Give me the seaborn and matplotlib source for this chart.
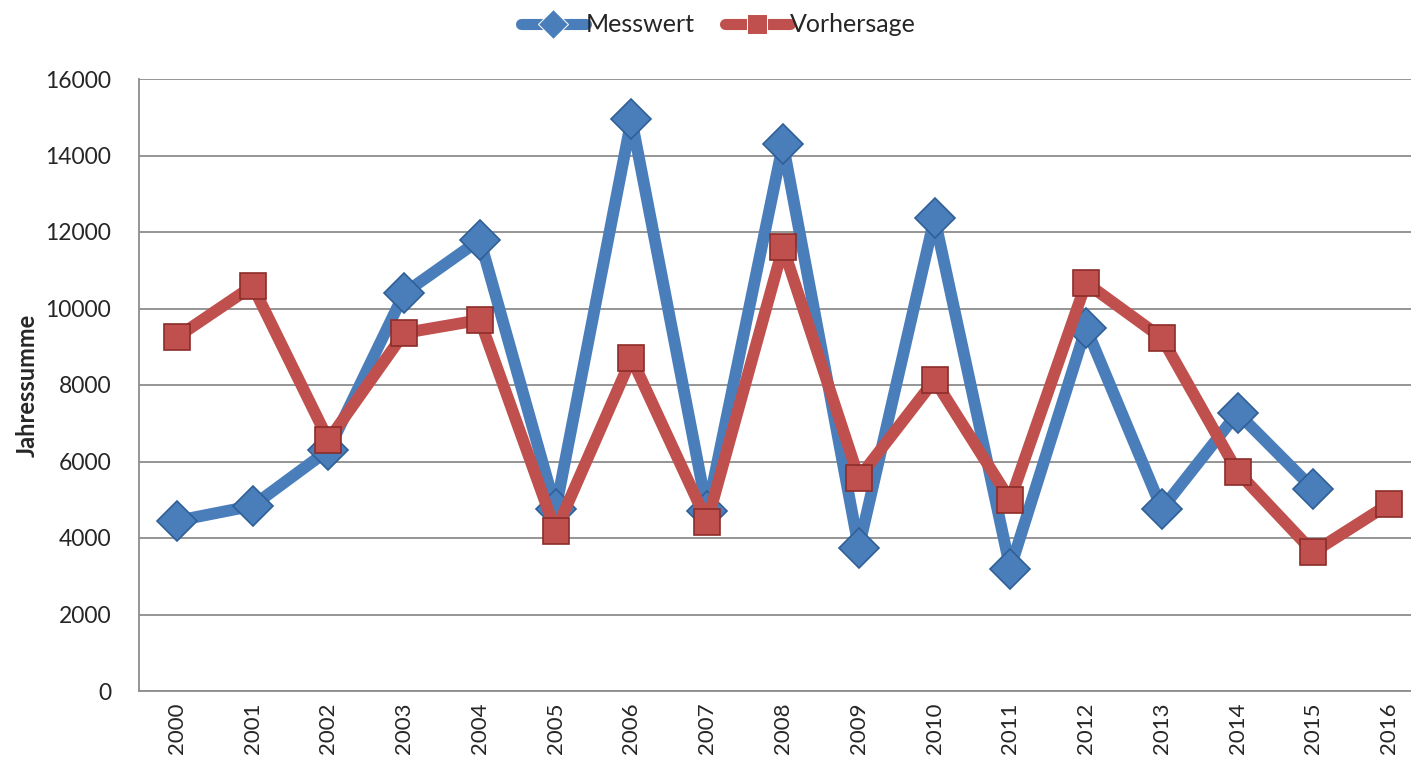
import numpy as np
import pandas as pd
import seaborn as sns
import matplotlib.pyplot as plt

years = [str(y) for y in range(2000, 2017)]
messwert = [4450, 4840, 6300, 10400, 11800, 4750, 14950, 4700, 14300,
            3740, 12370, 3200, 9500, 4760, 7270, 5280, np.nan]
vorhersage = [9250, 10590, 6560, 9360, 9700, 4180, 8700, 4420, 11600,
              5570, 8130, 4990, 10670, 9230, 5730, 3630, 4890]

df = pd.DataFrame({
    "Jahr": years * 2,
    "Wert": messwert + vorhersage,
    "Reihe": ["Messwert"] * len(years) + ["Vorhersage"] * len(years),
})

sns.set_style("white")
plt.rcParams['font.family'] = ['Lato', 'DejaVu Sans']

fig, ax = plt.subplots(figsize=(14.11, 7.63), dpi=100)
# the plot area runs a little past the right edge of the picture
fig.subplots_adjust(left=139 / 1411, right=1427 / 1411, top=1 - 79 / 763, bottom=1 - 691 / 763)

palette = {"Messwert": "#4A7EBB", "Vorhersage": "#C0504D"}
sns.lineplot(
    data=df, x="Jahr", y="Wert", hue="Reihe", style="Reihe",
    palette=palette, markers={"Messwert": "D", "Vorhersage": "s"},
    dashes=False, linewidth=8.5, ax=ax,
)
for line, edge in zip(ax.lines, ["#2F5F96", "#8C2D2A"]):
    line.set_markeredgecolor(edge)
    line.set_markeredgewidth(1.2)
ax.lines[0].set_markersize(20)
ax.lines[1].set_markersize(19)

ax.set_xlim(-0.5, len(years) - 0.5)
ax.set_ylim(0, 16000)
ax.set_yticks(range(0, 16001, 2000))
ax.yaxis.grid(True, color="#8C8C8C", linewidth=1.3)
ax.set_axisbelow(True)
for side in ["top", "right"]:
    ax.spines[side].set_visible(False)
for side in ["left", "bottom"]:
    ax.spines[side].set_color("#8C8C8C")
    ax.spines[side].set_linewidth(1.3)

ax.tick_params(axis="x", labelrotation=90, labelsize=16, length=0, pad=8)
ax.tick_params(axis="y", labelsize=16.5, length=0, pad=20)
ax.set_xlabel("")
ax.set_ylabel("Jahressumme", fontsize=17, fontweight="bold", labelpad=5)

ax.get_legend().remove()
handles, labels = ax.get_legend_handles_labels()
leg = fig.legend(handles, labels, loc="center", bbox_to_anchor=(718 / 1411, 1 - 25 / 763),
                 ncol=2, frameon=False, fontsize=18, handlelength=2.6,
                 columnspacing=1.2, handletextpad=0.0)
for h in leg.legend_handles:
    h.set_linewidth(8)
    h.set_markersize(15)

plt.savefig("out.png", dpi=100)
plt.close()
